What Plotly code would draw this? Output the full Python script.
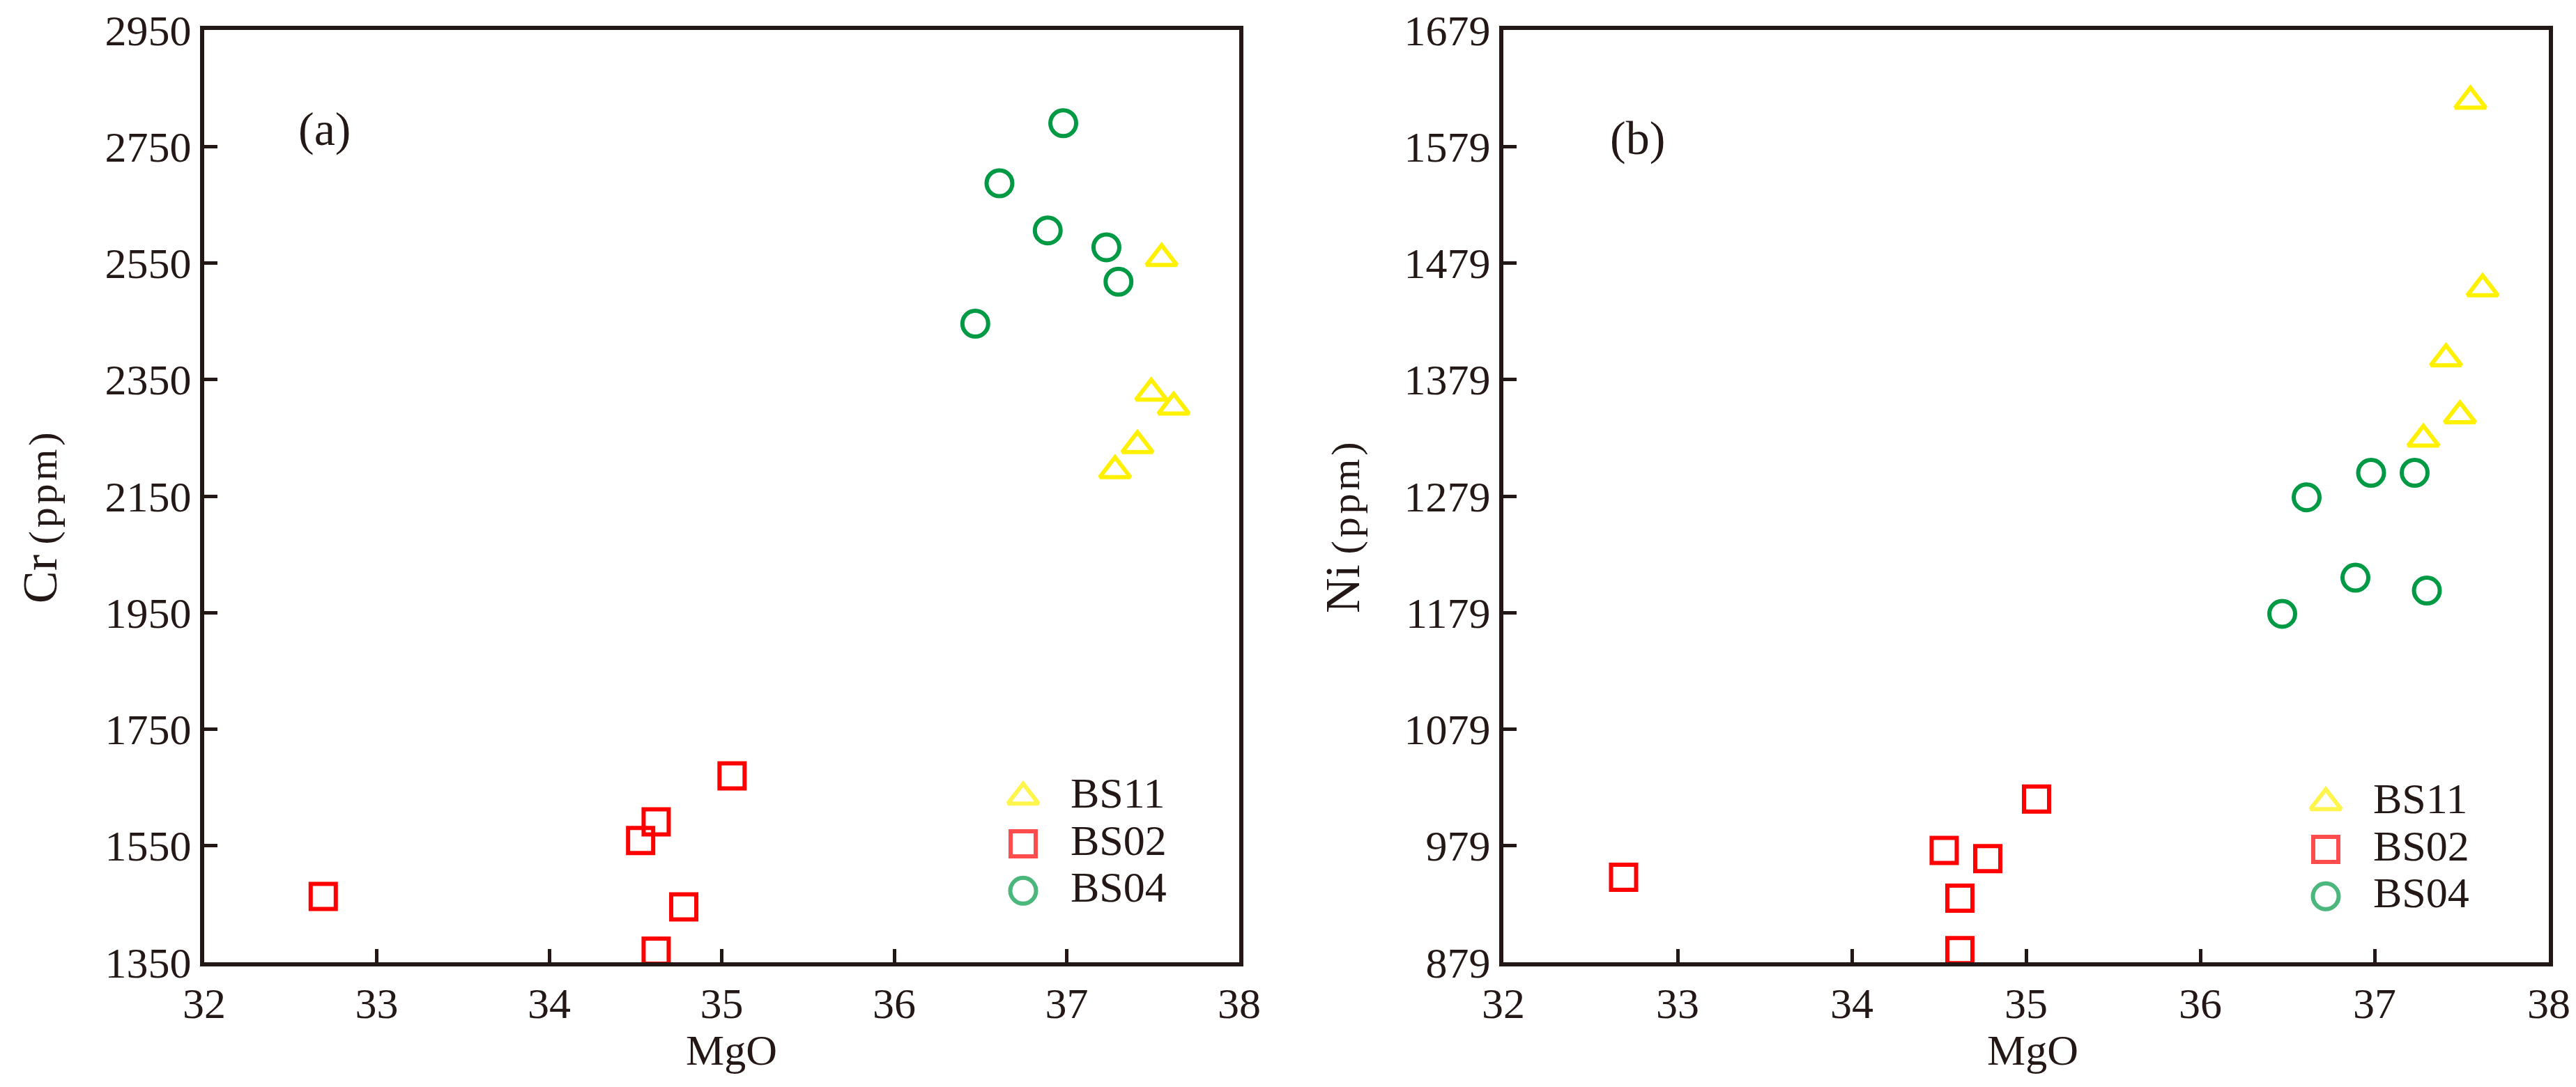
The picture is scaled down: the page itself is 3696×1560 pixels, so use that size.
import plotly.graph_objects as go

# page is 3696x1560; the browser's default 8px body margin offsets the figure,
# so the figure is drawn 16px smaller and every page position is shifted by 8px.
PAGE_W, PAGE_H = 3696, 1560
OFF = 8
W, H = PAGE_W - 2 * OFF, PAGE_H - 2 * OFF
FONT = "Liberation Serif"
TXT = "#231815"

# ---------------- data ----------------
groups = ["BS11", "BS02", "BS04"]

mgo_bs11 = [37.28, 37.41, 37.49, 37.55, 37.62]
cr_bs11 = [2194, 2237, 2327, 2558, 2303]
ni_bs11 = [1328, 1397, 1348, 1618, 1457]

mgo_bs02 = [32.69, 34.53, 34.62, 34.62, 34.78, 35.06]
cr_bs02 = [1463, 1559, 1591, 1369, 1445, 1670]
ni_bs02 = [952, 975, 934, 889, 968, 1019]

mgo_bs04 = [36.47, 36.61, 36.89, 36.98, 37.23, 37.30]
cr_bs04 = [2446, 2687, 2606, 2790, 2577, 2518]
ni_bs04 = [1178, 1278, 1209, 1299, 1299, 1198]

x_ticks = [32, 33, 34, 35, 36, 37, 38]
cr_ticks = [1350, 1550, 1750, 1950, 2150, 2350, 2550, 2750, 2950]
ni_ticks = [879, 979, 1079, 1179, 1279, 1379, 1479, 1579, 1679]

symbols = ["triangle-up-open", "square-open", "circle-open"]
colors = ["#FFF100", "#FF0000", "#009944"]
sizes = [38, 36, 37]

series = [
    (groups[0], mgo_bs11, cr_bs11, ni_bs11),
    (groups[1], mgo_bs02, cr_bs02, ni_bs02),
    (groups[2], mgo_bs04, cr_bs04, ni_bs04),
]

fig = go.Figure()
for i, (name, mg, cr, ni) in enumerate(series):
    mk = dict(symbol=symbols[i], size=sizes[i], color=colors[i],
              line=dict(width=6, color=colors[i]))
    fig.add_trace(go.Scatter(x=mg, y=cr, mode="markers", name=name, marker=mk,
                             xaxis="x", yaxis="y", cliponaxis=False, showlegend=False))
    fig.add_trace(go.Scatter(x=mg, y=ni, mode="markers", name=name, marker=mk,
                             xaxis="x2", yaxis="y2", cliponaxis=False, showlegend=False))

# custom legends (one per panel), built from the group names
for ax_x, ax_y in [("x3", "y3"), ("x4", "y4")]:
    fig.add_trace(go.Scatter(
        x=[0] * len(groups), y=groups, mode="markers",
        marker=dict(symbol=symbols, size=sizes, color=colors,
                    line=dict(width=6, color=colors)),
        xaxis=ax_x, yaxis=ax_y, cliponaxis=False, showlegend=False, hoverinfo="skip"))
    fig.add_trace(go.Scatter(
        x=[1] * len(groups), y=groups, mode="text", text=groups,
        textposition="middle right",
        textfont=dict(family=FONT, size=62, color=TXT),
        xaxis=ax_x, yaxis=ax_y, cliponaxis=False, showlegend=False, hoverinfo="skip"))

common = dict(showline=True, linewidth=6, linecolor=TXT, mirror=True,
              ticks="inside", ticklen=19, tickwidth=5, tickcolor=TXT,
              showgrid=False, zeroline=False, automargin=False,
              tickfont=dict(family=FONT, size=62, color=TXT))

def px_x(a, b):
    return [(a - OFF) / W, (b - OFF) / W]

def px_y(top, bottom):
    return [1 - (bottom - OFF) / H, 1 - (top - OFF) / H]

def pos(x, y):
    return (x - OFF) / W, 1 - (y - OFF) / H

ydom = px_y(43, 1381)
cat_order = groups[::-1]
hidden = dict(visible=False, fixedrange=True, automargin=False, showgrid=False, zeroline=False)

fig.update_layout(
    template="none",
    width=W, height=H,
    margin=dict(l=0, r=0, t=0, b=0, pad=0, autoexpand=False),
    paper_bgcolor="white", plot_bgcolor="white",
    showlegend=False,
    xaxis=dict(domain=px_x(293, 1778), range=[32, 38], tickvals=x_ticks,
               anchor="y", **common),
    yaxis=dict(domain=ydom, range=[1350, 2950], tickvals=cr_ticks,
               anchor="x", **common),
    xaxis2=dict(domain=px_x(2157, 3657), range=[32, 38], tickvals=x_ticks,
                anchor="y2", **common),
    yaxis2=dict(domain=ydom, range=[879, 1679], tickvals=ni_ticks,
                anchor="x2", **common),
    xaxis3=dict(domain=px_x(1420, 1760), range=[-0.706, 4.294], anchor="y3", **hidden),
    yaxis3=dict(domain=px_y(1110, 1312), range=[-0.5, 2.5], type="category",
                categoryorder="array", categoryarray=cat_order, anchor="x3", **hidden),
    xaxis4=dict(domain=px_x(3290, 3630), range=[-0.691, 4.309], anchor="y4", **hidden),
    yaxis4=dict(domain=px_y(1118, 1320), range=[-0.5, 2.5], type="category",
                categoryorder="array", categoryarray=cat_order, anchor="x4", **hidden),
)

hair = "\u200a"
ppm = "<span style='font-size:58px'> " + hair.join(["(", "p", "p", "m", ")"]) + "</span>"

annos = [
    dict(text="(a)", p=(465, 185), size=68, angle=0),
    dict(text="(b)", p=(2349, 198), size=68, angle=0),
    dict(text="MgO", p=(1049, 1507), size=62, angle=0),
    dict(text="MgO", p=(2916, 1507), size=62, angle=0),
    dict(text="Cr" + ppm, p=(57, 743), size=70, angle=-90),
    dict(text="Ni" + ppm, p=(1927, 757), size=70, angle=-90),
]
for a in annos:
    ax_, ay_ = pos(*a["p"])
    fig.add_annotation(text=a["text"], x=ax_, y=ay_, xref="paper", yref="paper",
                       xanchor="center", yanchor="middle", showarrow=False,
                       textangle=a["angle"],
                       font=dict(family=FONT, size=a["size"], color=TXT))

fig.write_html("out.html")
